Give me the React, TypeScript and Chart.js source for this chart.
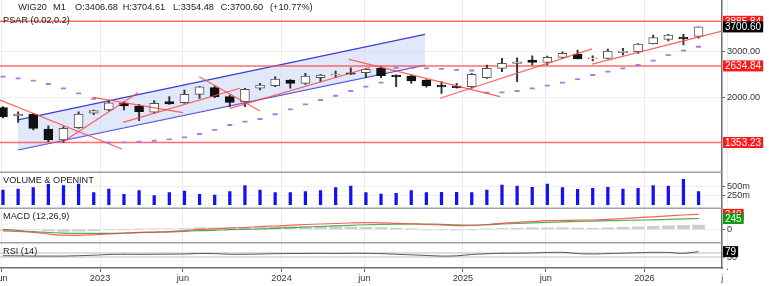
import React, { useEffect, useRef } from 'react';
import { Chart, registerables } from 'chart.js';

Chart.register(...registerables);

// ---------- data ----------
const months = [
  '2022-06', '2022-07', '2022-08', '2022-09', '2022-10', '2022-11', '2022-12',
  '2023-01', '2023-02', '2023-03', '2023-04', '2023-05', '2023-06', '2023-07', '2023-08', '2023-09', '2023-10', '2023-11', '2023-12',
  '2024-01', '2024-02', '2024-03', '2024-04', '2024-05', '2024-06', '2024-07', '2024-08', '2024-09', '2024-10', '2024-11', '2024-12',
  '2025-01', '2025-02', '2025-03', '2025-04', '2025-05', '2025-06', '2025-07', '2025-08', '2025-09', '2025-10', '2025-11', '2025-12',
  '2026-01', '2026-02', '2026-03', '2026-04',
];

const openP = [1832, 1704, 1730, 1522, 1383, 1539, 1745, 1795, 1903, 1859, 1760, 1930, 1913, 2058, 2180, 2016, 1930, 2169, 2218, 2331, 2265, 2378, 2435, 2484, 2484, 2581, 2435, 2414, 2331, 2232, 2212, 2199, 2378, 2581, 2696, 2774, 2719, 2840, 2915, 2798, 2815, 2956, 2982, 3200, 3322, 3390, 3406.68];
const highP = [1848, 1769, 1745, 1566, 1553, 1769, 1795, 1959, 1930, 1887, 1947, 2016, 2137, 2205, 2210, 2046, 2169, 2265, 2399, 2340, 2471, 2450, 2521, 2594, 2581, 2622, 2440, 2435, 2340, 2297, 2265, 2471, 2656, 2815, 2830, 2880, 2870, 2982, 3026, 2880, 3053, 3071, 3200, 3448, 3469, 3469, 3704.61];
const lowP = [1675, 1613, 1509, 1363, 1353.23, 1531, 1725, 1780, 1795, 1636, 1745, 1885, 1903, 1988, 2000, 1848, 1848, 2137, 2199, 2169, 2245, 2297, 2378, 2445, 2378, 2378, 2199, 2265, 2190, 2076, 2169, 2169, 2366, 2506, 2297, 2656, 2656, 2815, 2798, 2750, 2798, 2897, 2941, 3189, 3273, 3161, 3354.48];
const closeP = [1694, 1734, 1531, 1383, 1531, 1734, 1785, 1913, 1859, 1769, 1903, 1892, 2058, 2199, 2016, 1920, 2150, 2232, 2351, 2265, 2414, 2435, 2456, 2450, 2558, 2420, 2399, 2311, 2212, 2199, 2180, 2450, 2581, 2696, 2733, 2719, 2840, 2941, 2798, 2830, 3000, 3000, 3189, 3369, 3448, 3340.8, 3700.6];

const psar = [2399, 2366, 2317, 2251, 2169, 2076, 1980, 1353.23, 1355, 1363, 1374, 1391, 1416, 1457, 1509, 1576, 1622, 1660, 1730, 1806, 1887, 1959, 2033, 2118, 2199, 2277, 2594, 2585, 2578, 2566, 2548, 2532, 2087, 2094, 2118, 2169, 2218, 2277, 2351, 2435, 2506, 2581, 2656, 2757, 2897, 3008, 3114];

const volumeM = [409, 436, 473, 567, 528, 575, 334, 436, 289, 389, 250, 334, 381, 289, 270, 361, 528, 409, 334, 334, 361, 389, 473, 520, 334, 297, 317, 389, 334, 345, 345, 334, 409, 548, 520, 484, 575, 473, 428, 456, 484, 436, 456, 528, 520, 706, 361];

const macdLine = [-34, -50, -68, -107, -134, -136, -123, -107, -89, -70, -61, -54, -27, 0, 11, 30, 41, 64, 75, 93, 109, 120, 132, 143, 150, 148, 136, 125, 109, 98, 84, 86, 107, 136, 157, 177, 195, 202, 207, 211, 227, 245, 266, 284, 304, 325, 340];
const signalLine = [-2, -27, -54, -73, -86, -91, -91, -91, -84, -75, -68, -61, -45, -32, -23, -7, -3, 7, 23, 39, 52, 64, 77, 91, 104, 111, 116, 120, 120, 114, 102, 98, 104, 120, 132, 145, 159, 168, 177, 188, 195, 202, 209, 215, 226, 236, 245];
const macdHist = [-30, -25, -15, -35, -48, -45, -32, -16, -5, 5, 8, 8, 18, 32, 35, 37, 45, 50, 52, 54, 57, 56, 55, 52, 46, 37, 20, 5, -11, -16, -18, -12, 3, 16, 25, 32, 36, 34, 30, 23, 32, 43, 57, 69, 78, 89, 95];

const rsi = [45, 44, 42, 42, 42, 45, 49, 55, 57, 56, 57, 58, 59, 63, 62, 57, 57, 59, 62, 63, 64, 65, 64, 65, 65, 62, 57, 52, 47, 42, 44, 55, 61, 65, 66, 68, 72, 73, 63, 59, 63, 66, 70, 73, 72, 65, 79];

const levels = [3885.84, 2634.84, 1353.23];

// trend lines: [x0 (month index), price0, x1, price1]
const trendLines = [
  [-0.2, 1958, 7.87, 1279],
  [3.97, 1363, 8.93, 2087],
  [5.95, 2005, 11.9, 1754],
  [7.94, 1613, 15.67, 2169],
  [12.98, 2399, 17.0, 1780],
  [15.01, 1822, 24.27, 2599],
  [22.88, 2791, 32.87, 2016],
  [28.9, 1988, 38.96, 3058],
  [38.96, 2675, 47.55, 3570],
];
const channelUpper = [[0.99, 1646], [27.91, 3469]];
const channelLower = [[0.99, 1268], [27.91, 2656]];

const xTickValues = [-0.1, 6.42, 11.9, 18.42, 23.9, 30.42, 35.9, 42.42, 47.9];
const xTickLabels = ['jun', '2023', 'jun', '2024', 'jun', '2025', 'jun', '2026', 'jun'];
const priceTicks = [2000, 3000];
const volumeTicks = [250, 500];
const macdTicks = [0];
const rsiTicks = [30, 70];

const headerTokens: [string, number][] = [
  ['WIG20', 18.3], ['M1', 53], ['O:3406.68', 75], ['H:3704.61', 122.7],
  ['L:3354.48', 173], ['C:3700.60', 220.7], ['(+10.77%)', 270],
];

// ---------- chart ----------
const FONT = "'Liberation Sans', Arial, sans-serif";
const X_MIN = -0.198;
const X_MAX = 47.55;

const idx = months.map((_, i) => i);
const isUp = idx.map(i => closeP[i] >= openP[i]);

const overlayPlugin = {
  id: 'overlay',
  afterDraw(chart: any) {
    const ctx = chart.ctx as CanvasRenderingContext2D;
    const { left, right } = chart.chartArea;
    const yP = chart.scales.y;
    const yV = chart.scales.yVol;
    const yM = chart.scales.yMacd;
    const yR = chart.scales.yRsi;
    const xS = chart.scales.x;
    ctx.save();
    // mask x labels beyond the plot
    ctx.fillStyle = '#fff';
    ctx.fillRect(right + 0.8, xS.top + 2, chart.width - right, chart.height - xS.top);
    // panel separators
    ctx.strokeStyle = '#a2a2a2';
    ctx.lineWidth = 1.5;
    [yV.top, yM.top, yR.top].forEach((y: number) => {
      ctx.beginPath();
      ctx.moveTo(left, y);
      ctx.lineTo(right, y);
      ctx.stroke();
    });
    // titles
    ctx.fillStyle = '#222';
    ctx.font = `9.2px ${FONT}`;
    ctx.textBaseline = 'middle';
    ctx.textAlign = 'left';
    headerTokens.forEach(([t, x]) => ctx.fillText(t, x, 7));
    ctx.fillText('PSAR (0.02,0.2)', 3, yP.top + 20.5);
    ctx.fillText('VOLUME & OPENINT', 3, yV.top + 8.2);
    ctx.fillText('MACD (12,26,9)', 3, yM.top + 8.2);
    ctx.fillText('RSI (14)', 3, yR.top + 9);
    // value boxes
    const box = (scale: any, value: number, text: string, bg: string) => {
      const y = scale.getPixelForValue(value);
      ctx.font = `10px ${FONT}`;
      const w = ctx.measureText(text).width + 4;
      ctx.fillStyle = bg;
      ctx.fillRect(right + 1, y - 5.5, w, 11);
      ctx.fillStyle = '#fff';
      ctx.fillText(text, right + 3, y + 0.5);
    };
    levels.forEach(v => box(yP, v, v.toFixed(2), '#ff1a1a'));
    box(yP, closeP[closeP.length - 1], closeP[closeP.length - 1].toFixed(2), '#000');
    box(yM, macdLine[macdLine.length - 1], String(macdLine[macdLine.length - 1]), '#ff1a1a');
    box(yM, signalLine[signalLine.length - 1], String(signalLine[signalLine.length - 1]), '#119911');
    box(yR, rsi[rsi.length - 1], String(rsi[rsi.length - 1]), '#000');
    ctx.restore();
  },
};

const yCommon = (weight: number, ticks: number[], fmt: (v: number) => string, grid: any) => ({
  position: 'right',
  stack: 'panels',
  stackWeight: weight,
  beginAtZero: false,
  border: { display: true, color: '#6e6e6e', width: 1.5 },
  grid: { color: '#efefef', tickColor: '#555', tickLength: 3, ...grid },
  ticks: { autoSkip: false, font: { size: 9.2, family: FONT }, color: '#333', padding: 2, callback: (v: any) => fmt(Number(v)) },
  afterBuildTicks: (s: any) => { s.ticks = ticks.map(v => ({ value: v })); },
  afterFit: (s: any) => { s.width = 47; s.paddingTop = 0; s.paddingBottom = 0; },
});

function buildConfig(): any {
  const pts = (arr: number[][]) => arr.map(([x, y]) => ({ x, y }));
  const datasets: any[] = [
    {
      type: 'line', data: pts(channelUpper), yAxisID: 'y', borderColor: '#3c3cd8', borderWidth: 1.3,
      pointRadius: 0, fill: '+1', backgroundColor: 'rgba(200,214,246,0.55)', order: 10,
    },
    {
      type: 'line', data: pts(channelLower), yAxisID: 'y', borderColor: '#3c3cd8', borderWidth: 1.3,
      pointRadius: 0, fill: false, order: 10,
    },
    ...levels.map(v => ({
      type: 'line', data: [{ x: X_MIN, y: v }, { x: X_MAX, y: v }], yAxisID: 'y',
      borderColor: 'rgba(255,80,80,0.85)', borderWidth: 1.5, pointRadius: 0, fill: false, order: 9,
    })),
    {
      type: 'line', data: idx.map(i => ({ x: i, y: psar[i] })), yAxisID: 'y', showLine: false,
      pointStyle: 'line', pointRadius: 2.5, borderColor: '#a57ce0', borderWidth: 1.8,
      pointBorderColor: '#a57ce0', pointBorderWidth: 1.8, order: 8,
    },
    {
      type: 'bar', data: idx.map(i => ({ x: i, y: [lowP[i], highP[i]] })), yAxisID: 'y',
      barThickness: 1.3, backgroundColor: '#333', grouped: false, order: 7,
    },
    {
      type: 'bar', data: idx.map(i => ({ x: i, y: [openP[i], closeP[i]] })), yAxisID: 'y',
      barThickness: 9, backgroundColor: idx.map(i => (isUp[i] ? '#ffffff' : '#111111')),
      borderColor: idx.map(i => (isUp[i] ? '#555555' : '#111111')), borderWidth: 1,
      borderSkipped: false, grouped: false, order: 6,
    },
    ...trendLines.map(([x0, y0, x1, y1]) => ({
      type: 'line', data: [{ x: x0, y: y0 }, { x: x1, y: y1 }], yAxisID: 'y',
      borderColor: 'rgba(255,70,70,0.85)', borderWidth: 1.2, pointRadius: 0, fill: false, order: 5,
    })),
    {
      type: 'bar', data: idx.map(i => ({ x: i, y: volumeM[i] })), yAxisID: 'yVol',
      barThickness: 2.6, backgroundColor: '#1212f2', grouped: false, order: 4,
    },
    {
      type: 'bar', data: idx.map(i => ({ x: i, y: macdHist[i] })), yAxisID: 'yMacd',
      barThickness: 12, backgroundColor: '#cdcdcd', grouped: false, order: 4,
    },
    {
      type: 'line', data: idx.map(i => ({ x: i, y: macdLine[i] })), yAxisID: 'yMacd',
      borderColor: 'rgba(240,70,70,0.85)', borderWidth: 1.2, pointRadius: 0, tension: 0.35, fill: false, order: 3,
    },
    {
      type: 'line', data: idx.map(i => ({ x: i, y: signalLine[i] })), yAxisID: 'yMacd',
      borderColor: 'rgba(50,160,50,0.85)', borderWidth: 1.2, pointRadius: 0, tension: 0.35, fill: false, order: 3,
    },
    {
      type: 'line', data: idx.map(i => ({ x: i, y: rsi[i] })), yAxisID: 'yRsi',
      borderColor: '#555', borderWidth: 1, pointRadius: 0, tension: 0.3, fill: false, order: 3,
    },
  ];
  datasets.forEach(d => { d.xAxisID = 'x'; });

  return {
    type: 'bar',
    data: { datasets },
    options: {
      responsive: false,
      animation: false,
      devicePixelRatio: 1,
      events: [],
      layout: { padding: 0, autoPadding: false },
      plugins: { legend: { display: false }, tooltip: { enabled: false } },
      scales: {
        x: {
          type: 'linear', position: 'bottom', min: X_MIN, max: X_MAX, offset: false,
          grid: { color: '#ececec', tickColor: '#666', tickLength: 4, offset: false },
          border: { display: true, color: '#6e6e6e', width: 1.5 },
          ticks: {
            autoSkip: false, maxRotation: 0, minRotation: 0, padding: 1,
            font: { size: 9.2, family: FONT }, color: '#333',
            callback: (_v: any, i: number) => xTickLabels[i],
          },
          afterBuildTicks: (s: any) => { s.ticks = xTickValues.map(v => ({ value: v })); },
          afterFit: (s: any) => { s.height = 18; s.paddingLeft = 0; s.paddingRight = 0; },
        },
        y: { type: 'logarithmic', min: 1044, max: 4677, ...yCommon(172.3, priceTicks, v => v.toFixed(2), {}) },
        yVol: { type: 'linear', min: -100, max: 900, ...yCommon(36, volumeTicks, v => `${v}m`, {}) },
        yMacd: { type: 'linear', min: -304, max: 477, ...yCommon(34.4, macdTicks, v => String(v), {}) },
        yRsi: { type: 'linear', min: -57.5, max: 153.3, ...yCommon(25.3, rsiTicks, v => String(v), { color: '#dedede', lineWidth: 2, tickWidth: 1 }) },
      },
    },
    plugins: [overlayPlugin],
  };
}

export default function App() {
  const ref = useRef<HTMLCanvasElement>(null);
  useEffect(() => {
    Chart.defaults.font.family = FONT;
    const chart = new Chart(ref.current as HTMLCanvasElement, buildConfig());
    return () => chart.destroy();
  }, []);
  return (
    <div style={{ position: 'absolute', left: 0, top: 0, width: 769, height: 286, background: '#fff' }}>
      <canvas ref={ref} width={769} height={286} style={{ display: 'block', width: 769, height: 286 }} />
    </div>
  );
}
